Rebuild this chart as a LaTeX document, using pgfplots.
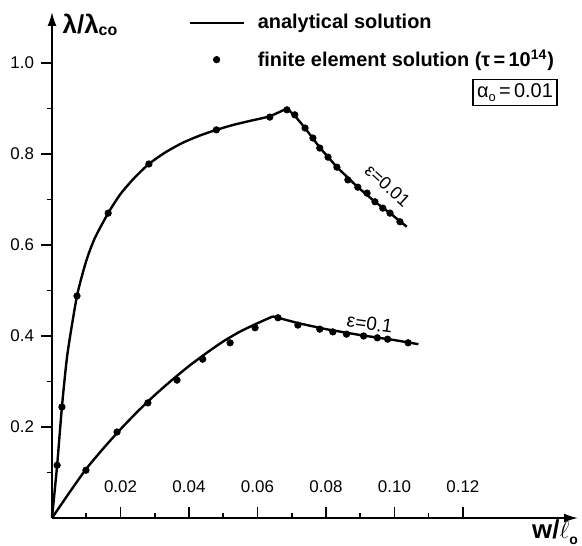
\documentclass[border=0pt]{standalone}
\usepackage{fontspec}
\setmainfont{Liberation Sans}
\usepackage{pgfplots}
\pgfplotsset{compat=1.18}
\usetikzlibrary{arrows.meta}
\pgfplotsset{
  lineleg/.style={legend image code/.code={\draw[##1, sharp plot] (0bp,0bp) -- (27bp,0bp);}},
  dotleg/.style={legend image code/.code={\draw[##1] plot coordinates {(13.5bp,0bp)};}},
}

\begin{document}
\begin{tikzpicture}
\useasboundingbox (-26bp,-14bp) rectangle (265bp,259bp);
\begin{axis}[
  scale only axis,
  width=263bp, height=253bp,
  xmin=0, xmax=0.1536, ymin=0, ymax=1.112,
  axis lines*=left,
  axis line style={line width=0.9pt, -{Latex[length=7bp,width=4.5bp]}},
  xtick={0.02,0.04,...,0.12},
  minor xtick={0.01,0.03,...,0.11},
  ytick={0.2,0.4,...,1.0},
  minor ytick={0.1,0.3,...,0.9},
  xtick align=inside, ytick align=outside,
  major tick length=5.5bp, minor tick length=2.5bp,
  tick style={line width=0.8pt, black},
  /pgf/number format/assume math mode=true,
  xticklabel style={/pgf/number format/.cd, fixed, fixed zerofill, precision=2, /tikz/.cd,
    anchor=south, yshift=9bp, font=\fontsize{8.5}{10}\selectfont},
  yticklabel style={/pgf/number format/.cd, fixed, fixed zerofill, precision=1, /tikz/.cd,
    font=\fontsize{8.5}{10}\selectfont},
  clip=false,
  legend style={at={(0.2586,1.004)}, anchor=north west, draw=none, fill=none,
    inner sep=0pt, font=\fontsize{10}{12}\bfseries, row sep=5bp, legend cell align=left,
    /tikz/every odd column/.append style={column sep=4.5bp}},
]
% analytical solution, eps = 0.01
\addplot[black, line width=1.2pt, smooth, tension=0.4, lineleg]
  coordinates {
  (0,0) (0.0015,0.116) (0.0029,0.244) (0.0045,0.36) (0.0073,0.488)
  (0.010,0.565) (0.0125,0.615) (0.0164,0.670) (0.020,0.712) (0.024,0.747)
  (0.0283,0.778) (0.033,0.803) (0.038,0.824) (0.043,0.840) (0.048,0.853)
  (0.053,0.864) (0.058,0.873) (0.0636,0.883) (0.0686,0.900)
  };
\addlegendentry{analytical solution}
\addplot[black, line width=1.2pt, forget plot] coordinates {
  (0.0686,0.900) (0.0709,0.884) (0.0739,0.857) (0.0782,0.814) (0.0832,0.771)
  (0.0893,0.727) (0.0943,0.695) (0.0987,0.670) (0.1036,0.640)
  };
% analytical solution, eps = 0.1
\addplot[black, line width=1.2pt, smooth, tension=0.4, forget plot] coordinates {
  (0,0) (0.005,0.055) (0.010,0.108) (0.015,0.153) (0.020,0.195) (0.025,0.234)
  (0.030,0.270) (0.035,0.303) (0.040,0.334) (0.045,0.362) (0.050,0.388)
  (0.055,0.410) (0.060,0.428) (0.0645,0.443)
  };
\addplot[black, line width=1.2pt, forget plot] coordinates {
  (0.0645,0.443) (0.072,0.428) (0.080,0.415) (0.090,0.402) (0.100,0.391) (0.107,0.382)
  };
% finite element solution
\addplot[only marks, mark=*, mark size=1.6bp, black, dotleg]
  coordinates {
  (0.0015,0.116) (0.0029,0.244) (0.0073,0.488) (0.0164,0.670) (0.0283,0.778)
  (0.048,0.853) (0.0636,0.881) (0.0686,0.897) (0.0709,0.886) (0.0739,0.857)
  (0.0762,0.835) (0.0782,0.813) (0.0806,0.793) (0.0832,0.771) (0.0864,0.743)
  (0.0893,0.727) (0.0920,0.714) (0.0943,0.695) (0.0966,0.681) (0.0987,0.670)
  (0.1016,0.651)
  };
\addlegendentry{finite element solution (τ\,=\,10\textsuperscript{14})}
\addplot[only marks, mark=*, mark size=1.6bp, black, forget plot] coordinates {
  (0.0099,0.105) (0.019,0.189) (0.028,0.253) (0.0365,0.303) (0.044,0.349)
  (0.052,0.385) (0.0593,0.418) (0.066,0.440) (0.0718,0.424) (0.0782,0.415)
  (0.082,0.409) (0.086,0.404) (0.091,0.400) (0.095,0.396) (0.098,0.393)
  (0.104,0.385)
  };
% labels
\node[font=\fontsize{13}{15}\bfseries\selectfont] at (axis cs:0.0111,1.0835)
  {λ/λ\raisebox{-0.2ex}{\fontsize{8}{9}\selectfont co}};
\node[font=\fontsize{13}{15}\bfseries\selectfont] at (axis cs:0.1469,-0.031)
  {w/$\ell$\raisebox{-0.4ex}{\fontsize{7}{8}\selectfont o}};
\node[draw, line width=0.7pt, inner sep=2bp, font=\fontsize{10}{12}\selectfont]
  at (axis cs:0.1352,0.935) {α\raisebox{-0.4ex}{\fontsize{6.5}{7}\selectfont o}\,=\,0.01};
\node[rotate=-42, font=\fontsize{9}{11}\selectfont] at (axis cs:0.0980,0.731) {ε=0.01};
\node[rotate=-8, font=\fontsize{9.5}{11}\selectfont] at (axis cs:0.0928,0.427) {ε=0.1};
\end{axis}
\end{tikzpicture}
\end{document}
